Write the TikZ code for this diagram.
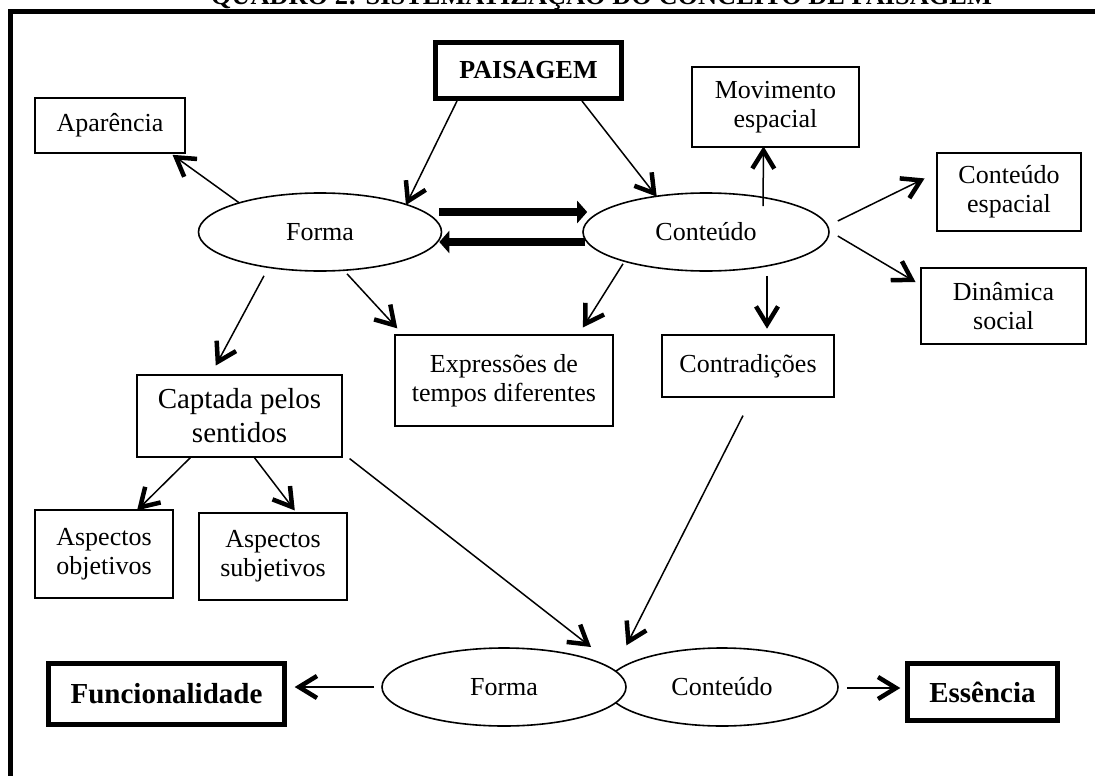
\documentclass[tikz,border=0pt]{standalone}
\usepackage{fontspec}
\setmainfont{Liberation Serif}
\usetikzlibrary{arrows.meta,calc,shapes.geometric}
\pgfdeclarearrow{
  name = Chevron,
  setup code = {
    \pgfarrowssettipend{0pt}
    \pgfarrowssetlineend{-3pt}
    \pgfarrowssetbackend{-21pt}
    \pgfarrowshullpoint{0pt}{0pt}
    \pgfarrowsupperhullpoint{-21pt}{11pt}
  },
  drawing code = {
    \pgfsetlinewidth{4.5pt}
    \pgfsetbuttcap
    \pgfsetmiterjoin
    \pgfpathmoveto{\pgfpoint{-21pt}{11pt}}
    \pgfpathlineto{\pgfpoint{-3pt}{0pt}}
    \pgfpathlineto{\pgfpoint{-21pt}{-11pt}}
    \pgfusepathqstroke
  }
}

\begin{document}
\begin{tikzpicture}[x=1pt, y=-1pt, every node/.style={font=\fontsize{26}{29}\selectfont}, box/.style={draw, line width=1.2pt, align=center, inner sep=0pt}, bigbox/.style={draw, line width=5pt, align=center, inner sep=0pt, font=\fontsize{29}{33}\selectfont\bfseries}, oval/.style={draw, ellipse, line width=1.6pt, inner sep=0pt, fill=white}, arr/.style={line width=1.5pt, -Chevron}, fat/.style={line width=8pt, -{Triangle[length=10pt,width=22pt]}}]
\useasboundingbox (0,0) rectangle (1095,776);
\node[anchor=base, font=\fontsize{26.4}{30}\selectfont\bfseries] (titulo) at (601.5,5) {QUADRO 2: SISTEMATIZAÇÃO DO CONCEITO DE PAISAGEM};
\draw[line width=5pt] (10.5,776) -- (10.5,12) -- (1095,12);
% nivel superior
\node[bigbox, font=\fontsize{26}{29}\selectfont\bfseries, minimum width=186pt, minimum height=56pt] (paisagem) at (528.5,70.5) {PAISAGEM};
\node[oval, minimum width=243pt, minimum height=78pt] (forma) at (320,232) {Forma};
\node[oval, minimum width=246pt, minimum height=78pt] (conteudo) at (706,232) {Conteúdo};
\node[box, minimum width=150pt, minimum height=55pt] (aparencia) at (110,125.5) {Aparência};
\node[box, minimum width=167pt, minimum height=80pt] (movimento) at (775.5,107) {Movimento\\espacial};
\node[box, minimum width=144pt, minimum height=78pt] (espacial) at (1009,192) {Conteúdo\\espacial};
\node[box, minimum width=165pt, minimum height=76pt] (dinamica) at (1003.5,306) {Dinâmica\\social};
\node[box, minimum width=172pt, minimum height=62pt] (contradicoes) at (748,366) {Contradições};
\node[box, minimum width=218pt, minimum height=91pt] (expressoes) at (504,380.5) {Expressões de\\tempos diferentes};
\node[box, font=\fontsize{29}{34}\selectfont, minimum width=205pt, minimum height=82pt] (captada) at (239.5,416) {Captada pelos\\sentidos};
\node[box, minimum width=138pt, minimum height=88pt] (aspobj) at (104,554) {Aspectos\\objetivos};
\node[box, minimum width=148pt, minimum height=87pt] (aspsubj) at (273,556.5) {Aspectos\\subjetivos};
% nivel inferior
\node[oval, minimum width=232pt, minimum height=78pt] (bconteudo) at (722,687) {Conteúdo};
\node[oval, minimum width=244pt, minimum height=78pt] (bforma) at (504,687) {Forma};
\node[bigbox, minimum width=236pt, minimum height=61pt] (funcional) at (166.5,694) {Funcionalidade};
\node[bigbox, minimum width=150pt, minimum height=57pt] (essencia) at (982.5,692) {Essência};
\draw[arr] ($(paisagem.south west)+(24,0)$) -- (forma.18);
\draw[arr] ($(paisagem.south east)+(-42,0)$) -- (conteudo.144);
\draw[arr] (forma.160) -- ($(aparencia.south east)+(-12,2)$);
\draw[arr] ($(forma.south)+(-56,4)$) -- ($(captada.north west)+(80,-10)$);
\draw[arr] ($(forma.south)+(27,2)$) -- ($(expressoes.north west)+(2,-7)$);
\draw[arr] ($(conteudo.south)+(-83,-8)$) -- ($(expressoes.north east)+(-30,-8)$);
\draw[arr] ($(conteudo.north)+(57,14)$) -- ($(movimento.south)+(-12,0)$);
\draw[arr] ($(conteudo.east)+(8,-11)$) -- ($(espacial.west)+(-13,-13)$);
\draw[arr] ($(conteudo.east)+(8,4)$) -- ($(dinamica.north west)+(-6,14)$);
\draw[arr] ($(conteudo.south)+(61,4)$) -- ($(contradicoes.north)+(19,-7)$);
\draw[arr] ($(captada.south west)+(54,0)$) -- ($(aspobj.north)+(34,0)$);
\draw[arr] ($(captada.south west)+(118,0)$) -- ($(aspsubj.north)+(21,-3)$);
\draw[arr] ($(captada.south east)+(7,1)$) -- ($(bforma.north)+(86,-1)$);
\draw[arr] ($(contradicoes.south)+(-5,18)$) -- ($(bconteudo.north)+(-95,-3)$);
\draw[arr] ($(bforma.west)+(-7,0)$) -- ($(funcional.east)+(9,-7)$);
\draw[arr] ($(bconteudo.east)+(8,1)$) -- ($(essencia.west)+(-6,-4)$);
\draw[fat] ($(forma.east)+(-3,-20)$) -- ($(conteudo.west)+(5,-20)$);
\draw[fat] ($(conteudo.west)+(3,10)$) -- ($(forma.east)+(-3,10)$);
\end{tikzpicture}
\end{document}
